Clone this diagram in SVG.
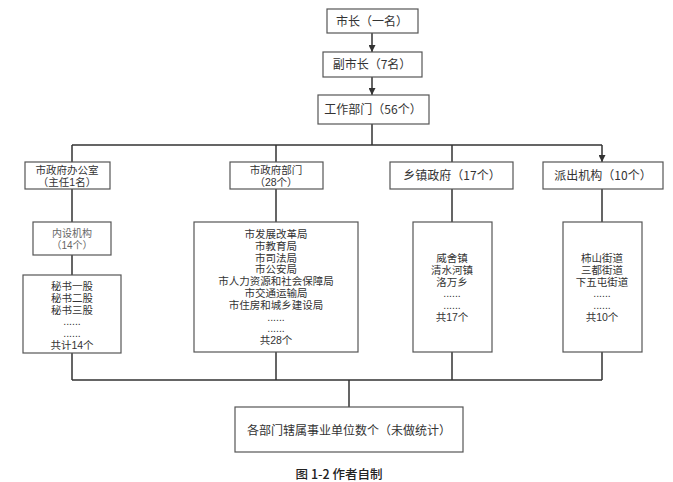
<svg xmlns="http://www.w3.org/2000/svg" width="673" height="482" viewBox="0 0 673 482">
<style>
.box{fill:#fff;stroke:#555;stroke-width:1.2}
.t{font-family:"Noto Sans CJK SC","Liberation Sans",sans-serif;font-size:12px;fill:#333;text-anchor:middle}
.m{font-family:"Liberation Sans","Noto Sans CJK SC",sans-serif;font-size:10.5px}
.s{font-family:"Liberation Sans","Noto Sans CJK SC",sans-serif;font-size:10px;fill:#666}
.c{fill:none;stroke:#333;stroke-width:1.5}
.cap{font-family:"Noto Sans CJK SC","Liberation Sans",sans-serif;font-size:12.5px;fill:#222;text-anchor:middle;font-weight:500}
</style>
<defs>
<marker id="ah" viewBox="0 0 10 10" refX="10" refY="5" markerWidth="7" markerHeight="7" markerUnits="userSpaceOnUse" orient="auto">
<path d="M0,0 L10,5 L0,10 z" fill="#333"/>
</marker>
</defs>
<rect width="673" height="482" fill="#fff"/>
<g id="connectors">
<path class="c" d="M372,33 V52" marker-end="url(#ah)"/>
<path class="c" d="M372,77 V95" marker-end="url(#ah)"/>
<path class="c" d="M372,124 V145 M72,145 H602 M72,145 V162 M276,145 V162 M452,145 V162"/>
<path class="c" d="M602,145 V162" marker-end="url(#ah)"/>
<path class="c" d="M72,189 V222 M72,255 V275 M276,189 V222 M452,189 V222 M602,189 V222"/>
<path class="c" d="M72,353 V380 M276,352 V380 M452,352 V380 M602,352 V380 M72,380 H602 M349,380 V407"/>
</g>
<g id="n1"><rect class="box" x="327" y="9" width="91" height="24"/><text class="t" x="372" y="26">市长（一名）</text></g>
<g id="n2"><rect class="box" x="323" y="52" width="99" height="25"/><text class="t" x="372" y="69">副市长（7名）</text></g>
<g id="n3"><rect class="box" x="318" y="95" width="111" height="29"/><text class="t" x="373" y="114">工作部门（56个）</text></g>
<g id="n4"><rect class="box" x="25" y="162" width="85" height="27"/><text class="t m" x="67" y="174">市政府办公室<tspan x="67" dy="12">（主任1名）</tspan></text></g>
<g id="n5"><rect class="box" x="230" y="162" width="93" height="27"/><text class="t m" x="276" y="174">市政府部门<tspan x="276" dy="12">（28个）</tspan></text></g>
<g id="n6"><rect class="box" x="390" y="162" width="123" height="27"/><text class="t" x="452" y="180">乡镇政府（17个）</text></g>
<g id="n7"><rect class="box" x="543" y="162" width="120" height="27"/><text class="t" x="603" y="180">派出机构（10个）</text></g>
<g id="n8"><rect class="box" x="33" y="222" width="78" height="33"/><text class="t s" x="72" y="237">内设机构<tspan x="72" dy="12">（14个）</tspan></text></g>
<g id="n9"><rect class="box" x="23" y="275" width="98" height="78"/>
<text class="t m" x="72" y="290">秘书一股<tspan x="72" dy="11.8">秘书二股</tspan><tspan x="72" dy="11.8">秘书三股</tspan><tspan x="72" dy="11.8">......</tspan><tspan x="72" dy="11.8">......</tspan><tspan x="72" dy="11.8">共计14个</tspan></text></g>
<g id="n10"><rect class="box" x="194" y="222" width="164" height="130"/>
<text class="t m" x="276" y="238">市发展改革局<tspan x="276" dy="11.8">市教育局</tspan><tspan x="276" dy="11.8">市司法局</tspan><tspan x="276" dy="11.8">市公安局</tspan><tspan x="276" dy="11.8">市人力资源和社会保障局</tspan><tspan x="276" dy="11.8">市交通运输局</tspan><tspan x="276" dy="11.8">市住房和城乡建设局</tspan><tspan x="276" dy="11.8">......</tspan><tspan x="276" dy="11.8">......</tspan><tspan x="276" dy="11.8">共28个</tspan></text></g>
<g id="n11"><rect class="box" x="413" y="222" width="79" height="130"/>
<text class="t m" x="452" y="262">威舍镇<tspan x="452" dy="11.8">清水河镇</tspan><tspan x="452" dy="11.8">洛万乡</tspan><tspan x="452" dy="11.8">......</tspan><tspan x="452" dy="11.8">......</tspan><tspan x="452" dy="11.8">共17个</tspan></text></g>
<g id="n12"><rect class="box" x="563" y="222" width="79" height="130"/>
<text class="t m" x="602" y="262">柿山街道<tspan x="602" dy="11.8">三都街道</tspan><tspan x="602" dy="11.8">下五屯街道</tspan><tspan x="602" dy="11.8">......</tspan><tspan x="602" dy="11.8">......</tspan><tspan x="602" dy="11.8">共10个</tspan></text></g>
<g id="n13"><rect class="box" x="235" y="407" width="228" height="45"/><text class="t" x="349" y="435">各部门辖属事业单位数个（未做统计）</text></g>
<text class="cap" x="339" y="479">图 1-2 作者自制</text>
</svg>
